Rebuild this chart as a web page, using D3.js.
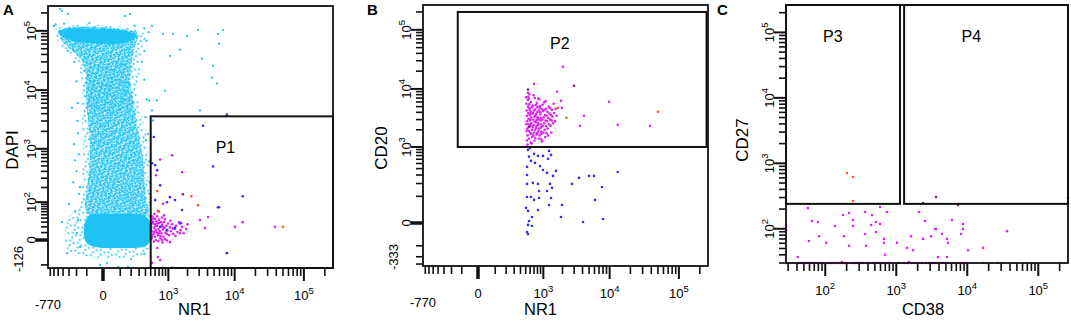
<!DOCTYPE html>
<html>
<head>
<meta charset="utf-8">
<script src="https://cdn.jsdelivr.net/npm/d3@7"></script>
<style>
  body { margin: 0; background: #fff; }
  text { font-family: "Liberation Sans", Arial, sans-serif; fill: #000; }
</style>
</head>
<body>
<svg id="fig" width="1071" height="320"></svg>
<script>
// ---------- axis values ----------
const axisMax = 262143;
const nr1Min = -770, dapiMin = -126, cd20Min = -333, cd38Min = 28, cd27Min = 30;
const nr1Ticks = [0, 1e3, 1e4, 1e5];
const dapiTicks = [0, 1e2, 1e3, 1e4, 1e5];
const cd20Ticks = [0, 1e3, 1e4, 1e5];
const cd38Ticks = [1e2, 1e3, 1e4, 1e5];
const cd27Ticks = [1e2, 1e3, 1e4, 1e5];

// gates: [xlo, xhi, ylo, yhi]
const gateP1 = [500, axisMax, dapiMin, 3600];
const gateP2 = [-135, 250000, 1000, 200000];
const gateP3 = [cd38Min, 1130, 240, axisMax];
const gateP4 = [1290, axisMax, 240, axisMax];

// ---------- panel A : NR1 vs DAPI ----------
// outlines of the dense cyan population (NR1, DAPI)
const cyanOuter = [[-549,112000],[-218,126000],[-14,126000],[139,116600],[312,100000],[427,79300],[358,55900],[327,38000],[312,21300],[270,9800],[312,4880],[392,2330],[446,940],[465,274],[486,86],[486,-24],[312,-47],[0,-57],[-162,-43],[-315,-24],[-365,11],[-285,49],[-162,86],[-142,274],[-133,940],[-142,2640],[-142,8100],[-162,20500],[-257,38000],[-460,55900],[-549,82500]];
const cyanInner = [[-420,104000],[98,108000],[284,89000],[245,55900],[209,31400],[188,14500],[221,6700],[284,2070],[358,630],[410,111],[446,49],[-90,49],[-90,274],[-75,940],[-90,3060],[-106,8100],[-106,17600],[-142,31400],[-285,49900],[-420,67900]];
const cyanWaist = [[-130,25000],[180,25000],[200,12000],[230,5000],[-110,5000],[-120,12000]];
const cyanTop = [[-503,98000],[-330,108000],[-120,110000],[60,106000],[200,95000],[270,84000],[190,68000],[80,60000],[-60,62000],[-200,66000],[-350,76000],[-470,86000]];
const cyanLow = [[-75,49],[98,52],[392,46],[486,30],[486,0],[410,-13],[98,-18],[-42,-15],[-106,-4],[-124,14],[-106,35]];
const cyanStray = [[528,121000],[816,89000],[1188,89000],[1964,82500],[2890,104000],[5710,89000],[6760,104000],[5910,60600],[1532,48000],[1063,38000],[4830,25800],[4660,16250],[5520,12900],[3310,33900],[880,9800],[646,6700],[3090,4520],[528,4520],[550,3060],[-460,233000],[-315,192600],[-420,216000],[139,178000],[188,192600],[-257,5050],[-183,1840],[-162,202],[-183,35],[-195,9],[18,-86],[-162,-15],[167,-117],[-14,-101],[84,-117],[-218,630],[410,1400],[470,6700],[-190,3000],[-175,800],[-200,400],[-170,150],[-220,60],[340,30000],[380,15000],[420,7000],[400,3500],[450,1800],[470,600],[480,250],[470,150],[-600,120000],[-560,128000],[-380,132000],[-80,135000],[240,122000],[380,110000],[460,95000],[420,68000],[380,46000],[-320,46000],[-230,30000],[-200,14000],[-185,6000],[-230,1200],[-240,250],[-300,90],[-420,30],[-330,-35],[200,-62],[380,-38]];

const aMagenta = [[620,340],[1150,770],[730,650],[1650,385],[820,92],[670,62],[3090,35],[4070,43],[3670,18],[10100,20],[13100,30],[38400,20],[670,-52],[730,-67],[820,-124],[1150,-124],[530,-86],[650,-18],[790,0],[1060,-4],[1530,9],
  [510,20],[530,12],[545,28],[560,8],[575,18],[590,25],[600,4],[615,14],[630,32],[640,10],[655,22],[670,6],[685,16],[700,28],[720,12],[735,2],[750,20],[770,9],[790,24],[810,15],[830,4],[850,30],[870,18],[900,10],[930,22],[960,14],[990,27],[1020,6],[1060,19],[1100,12],[1150,25],[1200,8],[1260,16],[1330,22],[1400,11],[1480,30],[1560,14],[1650,20],[1750,9],[520,35],[560,40],[600,38],[650,45],[700,36],[780,42],[850,48],[520,2],[570,-3],[620,0],[680,-2],[740,5],[800,-5],[880,1],[950,-1],[505,15],[515,26],[535,5],[555,31],[580,11],[610,22],[645,27],[690,9],[760,30],[820,20],[880,37],[940,8],[1080,33],[1180,17],[1300,5],[1600,28],[1900,16],[2000,25],[525,45],[580,52]];
const aBlue = [[7700,3850],[3430,2490],[570,1600],[4830,490],[530,560],[600,515],[650,420],[730,220],[1060,128],[1280,111],[1650,66],[950,100],[600,111],[13100,134],[5710,77],[5910,77],[7700,-35],[730,20],[950,14],[1280,18],[1530,27]];
const aOrange = [[650,170],[2290,134],[2890,86],[50000,20],[700,60]];
const aPurple = [[1700,147]];

// ---------- panel B : NR1 vs CD20 ----------
const bMagenta = [[2035,23800],[700,12200],[1650,8940],[9790,6040],[4210,3480],[3670,2340],[13100,2440],[38400,2340],[1900,6270],[1960,4770],
  [510,7200],[515,5600],[520,4300],[525,3500],[530,2800],[535,2100],[540,1600],[545,6500],[550,5000],[555,3900],[560,3100],[565,2500],[570,1900],[575,1400],[580,8200],[585,4700],[590,3600],[595,2900],[600,2300],[605,1750],[610,1200],[615,6000],[620,4100],[625,3300],[630,2600],[640,2000],[650,1500],[660,5200],[670,3900],[680,3000],[690,2400],[700,1800],[710,1300],[720,7000],[730,4500],[740,3500],[750,2700],[760,2150],[770,1650],[780,5800],[790,4000],[800,3100],[815,2450],[830,1900],[845,1400],[860,6600],[875,4800],[890,3700],[905,2900],[920,2200],[935,1700],[950,1250],[970,5400],[990,4200],[1010,3300],[1030,2600],[1050,2000],[1070,1500],[1090,6200],[1110,4600],[1130,3500],[1150,2800],[1170,2100],[1190,1600],[1220,5000],[1250,3800],[1280,3000],[1310,2350],[1340,1800],[1370,4400],[1400,3400],[1430,2600],[1460,5600],[1490,3900],[1530,2800],[1570,4600],[1620,3500],
  [512,2500],[518,1900],[528,1300],[538,1100],[548,8600],[558,7400],[568,6800],[578,5500],[588,4400],[598,3700],[608,3000],[618,2400],[628,1700],[638,1150],[648,4900],[658,3800],[668,2200],[678,1600],[688,7800],[698,4300],[708,3400],[718,2750],[728,2000],[738,1450],[748,5300],[758,3700],[768,2900],[778,2300],[788,1750],[798,4900],[808,3300],[818,2600],[828,6900],[838,4300],[848,3000],[858,2100],[868,1600],[878,5100],[888,4000],[898,3200],[908,2500],[918,1850],[928,1350],[940,4500],[960,3000],[980,2350],[1000,1800],[1025,5900],[1045,4400],[1065,3600],[1085,2900],[1105,2300],[1125,1750],[1160,4100],[1200,3200],[1240,2500],[1290,4700],[1330,3600],[1360,2900]];
const bBlue = [[550,887],[597,960],[1233,850],[700,751],[987,690],[816,690],[528,431],[621,559],[727,513],[880,450],[987,377],[1145,330],[1587,361],[1425,288],[528,301],[670,206],[528,196],[816,196],[1278,196],[3550,262],[2786,196],[4990,288],[5910,288],[13100,345],[849,136],[1145,136],[1375,160],[7730,168],[528,96],[621,96],[700,80],[849,90],[1326,90],[6110,80],[1233,56],[1964,56],[506,44],[550,33],[816,36],[1896,14.5],[8000,9.3],[4070,2.2],[646,14.5],[573,4.5],[550,-5],[646,-8],[528,-28],[550,-36],[573,670],[1190,610],[1326,720]];
const bOrange = [[50000,4080],[2290,3220],[1700,4770]];
const bPurple = [[2990,11300],[573,2250],[550,9800]];

// ---------- panel C : CD38 vs CD27 ----------
const cMagenta = [[57,207],[65,131],[79,127],[178,162],[216,174],[246,136],[363,180],[456,162],[591,215],[741,180],[591,118],[519,127],[442,114],[137,110],[246,110],[28,110],[28,96],[59,65],[82,77],[103,61],[184,77],[216,55],[363,83],[375,55],[519,89],[673,70],[673,61],[695,40],[1026,61],[1419,51],[1723,47],[1616,77],[2094,180],[2544,131],[2384,70],[3092,77],[3518,99],[3631,99],[4412,83],[5188,70],[5358,61],[3874,37],[5188,37],[6100,136],[8714,118],[8714,99],[8166,83],[10250,47],[16680,51],[36300,92],[41,37],[172,31],[1514,31],[28,247]];
// events piled on the CD27 floor
const cFloor = [28,42,45,48,52,55,60,64,68,72,78,85,95,110,120,132,145,160,175,190,205,240,260,285,310,340,380,420,470,520,580,640,720,800,1100,1300,1450,1650,1800,2000,2300,2600,2900,3200,3500,3800,4100,4500,4900,5400,6000,6600,7300,8000,8800,9500,16700,27000];
const cOrange = [[202,710],[246,617],[246,265],[28,364]];
const cPurple = [[3631,305],[2384,247],[7413,230],[262000,294]];

// ---------- colours ----------
const CYAN = '#1fc3f3', MAG = '#dd22f2', BLUE = '#2f2ff0', ORANGE = '#f0602c', PURPLE = '#7a1e78';

// ---------- scales ----------
const xA = d3.scaleSymlog().constant(130).domain([nr1Min, 0, axisMax]).range([48, 103, 333]);
const yA = d3.scaleSymlog().constant(30).domain([dapiMin, 0, axisMax]).range([268, 240, 6]);
const xB = d3.scaleSymlog().constant(130).domain([nr1Min, 0, axisMax]).range([423, 478, 708]);
const yB = d3.scaleSymlog().constant(55).domain([cd20Min, 0, axisMax]).range([266, 223, 5]);
const xC = d3.scaleLog().domain([cd38Min, axisMax]).range([786, 1068]);
const yC = d3.scaleLog().domain([cd27Min, axisMax]).range([263, 5]);

const svg = d3.select('#fig');
const defs = svg.append('defs');

function dotPattern(id, size, dots, rot) {
  const p = defs.append('pattern').attr('id', id)
    .attr('patternUnits', 'userSpaceOnUse')
    .attr('width', size).attr('height', size);
  if (rot) p.attr('patternTransform', 'rotate(' + rot + ')');
  dots.forEach(d => p.append('circle').attr('cx', d[0]).attr('cy', d[1]).attr('r', 1.05).attr('fill', CYAN));
}
dotPattern('stipA', 8, [[1.5, 1.5], [5.5, 3], [2.5, 6]], 17);
dotPattern('stipB', 5, [[1, 1], [3.5, 2], [2, 3.8], [4.3, 4.5]], 23);
dotPattern('stipC', 6, [[1, 2], [4, 0.8], [3, 4.5]], 61);

// minor ticks: m*10^k between the majors
function minorTicks(scaleDomain, majors, posFrom, negFrom) {
  const lo = scaleDomain[0], hi = scaleDomain[scaleDomain.length - 1];
  const out = [];
  for (let k = posFrom; k <= 5; k++) {
    for (let m = 1; m <= 9; m++) {
      const v = m * Math.pow(10, k);
      if (v >= lo && v <= hi && !majors.includes(v)) out.push(v);
    }
  }
  if (negFrom != null) {
    for (let k = negFrom; k <= 3; k++) {
      for (let m = 1; m <= 9; m++) {
        const v = -m * Math.pow(10, k);
        if (v > lo) out.push(v);
      }
    }
  }
  return out;
}

function tickLabel(sel, v) {
  if (v <= 0) { sel.text(String(v)); return; }
  sel.text('10');
  sel.append('tspan').attr('dy', -6).attr('font-size', 9.5).text(Math.round(Math.log10(v)));
}

function drawPanel(cfg) {
  const g = svg.append('g');
  const x = cfg.x, y = cfg.y;
  const xr = x.range(), yr = y.range();
  const left = xr[0], right = xr[xr.length - 1];
  const bottom = yr[0], top = yr[yr.length - 1];

  // axis ticks (bottom)
  const xMin = minorTicks(x.domain(), cfg.xMajors, cfg.xPosFrom, cfg.xNegFrom);
  g.selectAll(null).data(xMin).enter().append('line')
    .attr('x1', d => x(d)).attr('x2', d => x(d))
    .attr('y1', bottom).attr('y2', bottom + 8)
    .attr('stroke', '#111').attr('stroke-width', 1.6);
  g.selectAll(null).data(cfg.xMajors).enter().append('line')
    .attr('x1', d => x(d)).attr('x2', d => x(d))
    .attr('y1', bottom).attr('y2', bottom + 13)
    .attr('stroke', '#111').attr('stroke-width', d => d === 0 ? 3.5 : 2);
  g.selectAll(null).data(cfg.xMajors).enter().append('text')
    .attr('x', d => x(d)).attr('y', bottom + 32)
    .attr('text-anchor', 'middle').attr('font-size', 13)
    .each(function(d) { tickLabel(d3.select(this), d); });
  if (cfg.xMinLabel) {
    g.append('text').attr('x', left).attr('y', bottom + 41)
      .attr('text-anchor', 'middle').attr('font-size', 13).text(String(x.domain()[0]));
  }

  // axis ticks (left)
  const yMin = minorTicks(y.domain(), cfg.yMajors, cfg.yPosFrom, cfg.yNegFrom);
  g.selectAll(null).data(yMin).enter().append('line')
    .attr('y1', d => y(d)).attr('y2', d => y(d))
    .attr('x1', left).attr('x2', left - 7)
    .attr('stroke', '#111').attr('stroke-width', 1.6);
  g.selectAll(null).data(cfg.yMajors).enter().append('line')
    .attr('y1', d => y(d)).attr('y2', d => y(d))
    .attr('x1', left).attr('x2', left - 12)
    .attr('stroke', '#111').attr('stroke-width', d => d === 0 ? 3.5 : 2);
  g.selectAll(null).data(cfg.yMajors).enter().append('text')
    .attr('transform', d => 'translate(' + (left - 12) + ',' + y(d) + ') rotate(-90)')
    .attr('text-anchor', 'middle').attr('font-size', 13)
    .each(function(d) { tickLabel(d3.select(this), d); });
  if (cfg.yMinLabel) {
    g.append('text').attr('transform', 'translate(' + (left - 25) + ',' + (bottom - 9) + ') rotate(-90)')
      .attr('text-anchor', 'middle').attr('font-size', 13).text(String(y.domain()[0]));
  }

  // titles
  g.append('text').attr('x', (left + right) / 2 + cfg.xTitleShift).attr('y', 315)
    .attr('text-anchor', 'middle').attr('font-size', 16.5).text(cfg.xTitle);
  g.append('text')
    .attr('transform', 'translate(' + (left - cfg.yTitleGap) + ',' + cfg.yTitleMid + ') rotate(-90)')
    .attr('text-anchor', 'middle').attr('font-size', 17).text(cfg.yTitle);
  g.append('text').attr('x', cfg.letterX).attr('y', 15)
    .attr('font-size', 15).attr('font-weight', 'bold').text(cfg.letter);

  // populations drawn as shaded outlines
  const outline = d3.line().x(d => x(d[0])).y(d => y(d[1])).curve(d3.curveCatmullRomClosed.alpha(0.5));
  (cfg.areas || []).forEach(a => {
    g.append('path').attr('d', outline(a.pts)).attr('fill', a.fill).attr('stroke', 'none');
  });

  // events
  cfg.series.forEach(s => {
    g.selectAll(null).data(s.pts).enter().append('circle')
      .attr('cx', d => x(d[0])).attr('cy', d => y(d[1]))
      .attr('r', s.r || 1.3).attr('fill', s.color);
  });

  // gates
  cfg.gates.forEach(gt => {
    const gx0 = x(gt.b[0]), gx1 = x(gt.b[1]);
    const gy0 = y(gt.b[3]), gy1 = y(gt.b[2]);
    g.append('rect').attr('x', gx0).attr('y', gy0)
      .attr('width', gx1 - gx0).attr('height', gy1 - gy0)
      .attr('fill', 'none').attr('stroke', '#111').attr('stroke-width', 2);
    g.append('text').attr('x', gx0 + 0.41 * (gx1 - gx0)).attr('y', gy0 + 37)
      .attr('text-anchor', 'middle').attr('font-size', 16).text(gt.name);
  });

  // frame
  g.append('rect').attr('x', left).attr('y', top)
    .attr('width', right - left).attr('height', bottom - top)
    .attr('fill', 'none').attr('stroke', '#111').attr('stroke-width', 1.8);
}

drawPanel({
  letter: 'A', letterX: 3, x: xA, y: yA,
  xMajors: nr1Ticks, yMajors: dapiTicks, xPosFrom: 2, xNegFrom: 2, yPosFrom: 1, yNegFrom: 2,
  xMinLabel: true, yMinLabel: true,
  xTitle: 'NR1', xTitleShift: 4, yTitle: 'DAPI', yTitleGap: 30, yTitleMid: 150,
  areas: [
    { pts: cyanOuter, fill: 'url(#stipA)' },
    { pts: cyanInner, fill: 'url(#stipB)' },
    { pts: cyanInner, fill: 'url(#stipC)' },
    { pts: cyanWaist, fill: 'url(#stipA)' },
    { pts: cyanTop, fill: CYAN },
    { pts: cyanLow, fill: CYAN }
  ],
  series: [
    { pts: cyanStray, color: CYAN, r: 1.15 },
    { pts: aMagenta, color: MAG },
    { pts: aBlue, color: BLUE },
    { pts: aOrange, color: ORANGE },
    { pts: aPurple, color: PURPLE }
  ],
  gates: [{ b: gateP1, name: 'P1' }]
});

drawPanel({
  letter: 'B', letterX: 367, x: xB, y: yB,
  xMajors: nr1Ticks, yMajors: cd20Ticks, xPosFrom: 2, xNegFrom: 2, yPosFrom: 2, yNegFrom: 2,
  xMinLabel: true, yMinLabel: true,
  xTitle: 'NR1', xTitleShift: -25, yTitle: 'CD20', yTitleGap: 36, yTitleMid: 148,
  series: [
    { pts: bBlue, color: BLUE },
    { pts: bMagenta, color: MAG },
    { pts: bOrange, color: ORANGE },
    { pts: bPurple, color: PURPLE }
  ],
  gates: [{ b: gateP2, name: 'P2' }]
});

drawPanel({
  letter: 'C', letterX: 717, x: xC, y: yC,
  xMajors: cd38Ticks, yMajors: cd27Ticks, xPosFrom: 1, xNegFrom: null, yPosFrom: 1, yNegFrom: null,
  xMinLabel: false, yMinLabel: false,
  xTitle: 'CD38', xTitleShift: -4, yTitle: 'CD27', yTitleGap: 38, yTitleMid: 140,
  series: [
    { pts: cMagenta, color: MAG },
    { pts: cFloor.map(v => [v, cd27Min]), color: MAG },
    { pts: cOrange, color: ORANGE },
    { pts: cPurple, color: PURPLE }
  ],
  gates: [{ b: gateP3, name: 'P3' }, { b: gateP4, name: 'P4' }]
});
</script>
</body>
</html>
